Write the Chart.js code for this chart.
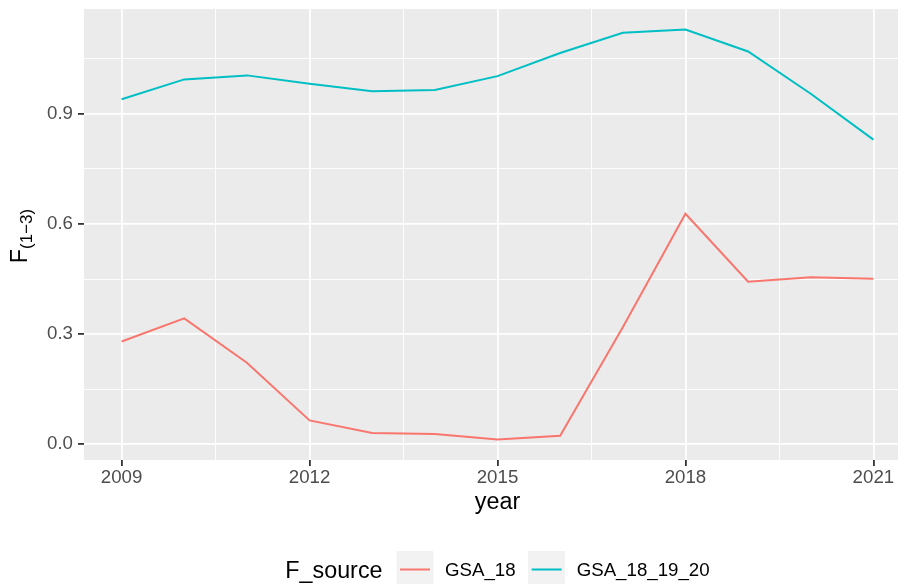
<!DOCTYPE html>
<html>
<head>
<meta charset="utf-8">
<script src="https://cdn.jsdelivr.net/npm/chart.js@4/dist/chart.umd.min.js"></script>
<style>
html,body{margin:0;padding:0;overflow:hidden;background:#ffffff;width:898px;height:584px}
canvas{display:block}
</style>
</head>
<body>
<canvas id="c" width="912" height="584"></canvas>
<script>
// ---- data ----
const years = [2009, 2010, 2011, 2012, 2013, 2014, 2015, 2016, 2017, 2018, 2019, 2020, 2021];
const gsa18 = [0.280, 0.343, 0.222, 0.065, 0.031, 0.028, 0.013, 0.023, 0.319, 0.628, 0.443, 0.455, 0.451];
const gsa181920 = [0.940, 0.994, 1.005, 0.982, 0.962, 0.965, 1.003, 1.066, 1.121, 1.130, 1.070, 0.955, 0.830];
const seriesNames = ['GSA_18', 'GSA_18_19_20'];
const seriesColors = ['#F8766D', '#00BFC4'];
const xMajor = [2009, 2012, 2015, 2018, 2021];
const xLabels = ['2009', '2012', '2015', '2018', '2021'];
const yMajor = [0.0, 0.3, 0.6, 0.9];
const yLabels = ['0.0', '0.3', '0.6', '0.9'];
const xTitle = 'year';
const yTitleMain = 'F';
const yTitleSub = '(1\u22123)';
const legendTitle = 'F_source';

// ---- ggplot-like expanded ranges ----
const allVals = gsa18.concat(gsa181920);
const yLo = Math.min(...allVals), yHi = Math.max(...allVals);
const yMin = yLo - 0.05 * (yHi - yLo), yMax = yHi + 0.05 * (yHi - yLo);
const xLo = Math.min(...years), xHi = Math.max(...years);
const xMin = xLo - 0.05 * (xHi - xLo), xMax = xHi + 0.05 * (xHi - xLo);

function withMinors(major, lo, hi) {
  const step = major[1] - major[0];
  const out = [];
  for (let k = -20; k <= 20; k++) {
    const mj = major[0] + k * step;
    const mn = major[0] + (k + 0.5) * step;
    if (mj >= lo - 1e-9 && mj <= hi + 1e-9) out.push(mj);
    if (mn >= lo - 1e-9 && mn <= hi + 1e-9) out.push(mn);
  }
  return out.sort((a, b) => a - b);
}
const idxOf = (arr, v) => arr.findIndex(m => Math.abs(m - v) < 1e-6);
const xTickVals = withMinors(xMajor, xMin, xMax);
const yTickVals = withMinors(yMajor, yMin, yMax);

const FAM = '"Liberation Sans", Arial, Helvetica, sans-serif';
const TITLE_PX = 23.3, LABEL_PX = 18.7, SUB_PX = 17;

const ggPlugin = {
  id: 'gg',
  beforeDraw(chart) {
    const { ctx, chartArea: a } = chart;
    ctx.save();
    ctx.fillStyle = '#EBEBEB';
    ctx.fillRect(a.left, a.top, a.right - a.left, a.bottom - a.top);
    ctx.restore();
  },
  afterDraw(chart) {
    const { ctx, chartArea: a } = chart;
    const cx = (a.left + a.right) / 2;
    const cy = (a.top + a.bottom) / 2;
    ctx.save();
    // x title
    ctx.fillStyle = '#000000';
    ctx.font = TITLE_PX + 'px ' + FAM;
    ctx.textAlign = 'center';
    ctx.textBaseline = 'alphabetic';
    ctx.fillText(xTitle, cx, 509);
    // y title with subscript
    ctx.font = TITLE_PX + 'px ' + FAM;
    const wF = ctx.measureText(yTitleMain).width;
    ctx.font = SUB_PX + 'px ' + FAM;
    const wS = ctx.measureText(yTitleSub).width;
    const tot = wF + wS;
    ctx.save();
    ctx.translate(27, cy + 1.5 + tot / 2);
    ctx.rotate(-Math.PI / 2);
    ctx.textAlign = 'left';
    ctx.font = TITLE_PX + 'px ' + FAM;
    ctx.fillText(yTitleMain, 0, 0);
    ctx.font = SUB_PX + 'px ' + FAM;
    ctx.fillText(yTitleSub, wF, 5);
    ctx.restore();
    // legend
    ctx.textAlign = 'left';
    ctx.font = TITLE_PX + 'px ' + FAM;
    const wT = ctx.measureText(legendTitle).width;
    ctx.font = LABEL_PX + 'px ' + FAM;
    const wl = seriesNames.map(n => ctx.measureText(n).width);
    const key = 37, gapT = 14, gapK = 11.5, gapI = 12.5;
    let total = wT + gapT;
    wl.forEach((w, i) => { total += key + gapK + w + (i < wl.length - 1 ? gapI : 0); });
    let x = cx - total / 2;
    const midY = 569.5;
    ctx.font = TITLE_PX + 'px ' + FAM;
    ctx.fillStyle = '#000000';
    ctx.fillText(legendTitle, x, 577.5);
    x += wT + gapT;
    seriesNames.forEach((n, i) => {
      ctx.fillStyle = '#F2F2F2';
      ctx.fillRect(x, midY - key / 2, key, key);
      ctx.strokeStyle = seriesColors[i];
      ctx.lineWidth = 2;
      ctx.beginPath();
      ctx.moveTo(x + 3.5, midY);
      ctx.lineTo(x + key - 3.5, midY);
      ctx.stroke();
      x += key + gapK;
      ctx.fillStyle = '#000000';
      ctx.font = LABEL_PX + 'px ' + FAM;
      ctx.fillText(n, x, 576);
      x += wl[i] + gapI;
    });
    ctx.restore();
  }
};

const mk = (vals) => years.map((y, i) => ({ x: y, y: vals[i] }));

new Chart(document.getElementById('c'), {
  type: 'line',
  data: {
    datasets: [
      { label: seriesNames[0], data: mk(gsa18), borderColor: seriesColors[0], backgroundColor: seriesColors[0], borderWidth: 2, pointRadius: 0, tension: 0, fill: false },
      { label: seriesNames[1], data: mk(gsa181920), borderColor: seriesColors[1], backgroundColor: seriesColors[1], borderWidth: 2, pointRadius: 0, tension: 0, fill: false }
    ]
  },
  options: {
    responsive: false,
    devicePixelRatio: 1,
    animation: false,
    layout: { padding: { top: 9, right: 1, left: 0, bottom: 0 } },
    plugins: { legend: { display: false }, tooltip: { enabled: false } },
    scales: {
      x: {
        type: 'linear', min: xMin, max: xMax,
        afterBuildTicks: s => { s.ticks = xTickVals.map(v => ({ value: v })); },
        afterFit: s => { s.height = 124; s.paddingLeft = 0; s.paddingRight = 0; },
        border: { display: false },
        grid: {
          color: '#FFFFFF',
          lineWidth: c => idxOf(xMajor, c.tick.value) >= 0 ? 1.8 : 0.9,
          tickColor: c => idxOf(xMajor, c.tick.value) >= 0 ? '#333333' : 'rgba(0,0,0,0)',
          tickWidth: 1.8, tickLength: 6, drawTicks: true
        },
        ticks: {
          autoSkip: false, maxRotation: 0, minRotation: 0, padding: 1,
          color: '#4D4D4D', font: { family: FAM, size: LABEL_PX },
          callback: v => { const i = idxOf(xMajor, v); return i >= 0 ? xLabels[i] : ''; }
        },
        title: { display: false }
      },
      y: {
        type: 'linear', min: yMin, max: yMax,
        afterBuildTicks: s => { s.ticks = yTickVals.map(v => ({ value: v })); },
        afterFit: s => { s.width = 84; s.paddingTop = 0; s.paddingBottom = 0; },
        border: { display: false },
        grid: {
          color: '#FFFFFF',
          lineWidth: c => idxOf(yMajor, c.tick.value) >= 0 ? 1.8 : 0.9,
          tickColor: c => idxOf(yMajor, c.tick.value) >= 0 ? '#333333' : 'rgba(0,0,0,0)',
          tickWidth: 1.8, tickLength: 6, drawTicks: true
        },
        ticks: {
          autoSkip: false, padding: 5,
          color: '#4D4D4D', font: { family: FAM, size: LABEL_PX },
          callback: v => { const i = idxOf(yMajor, v); return i >= 0 ? yLabels[i] : ''; }
        },
        title: { display: false }
      }
    }
  },
  plugins: [ggPlugin]
});
</script>
</body>
</html>
